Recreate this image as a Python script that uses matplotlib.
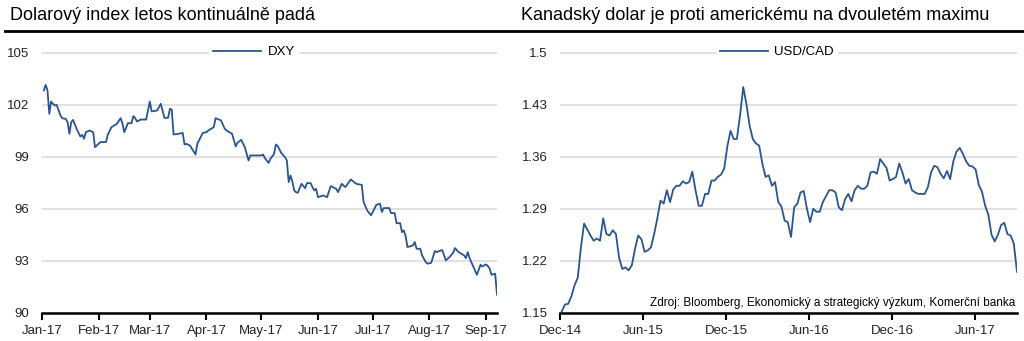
import pandas as pd
import matplotlib
matplotlib.use('Agg')
import matplotlib.pyplot as plt
import matplotlib.dates as mdates
from matplotlib.lines import Line2D
from matplotlib.ticker import FuncFormatter

plt.rcParams['font.family'] = ['Liberation Sans', 'DejaVu Sans']

# DXY, day of 2017 and closing value
dxy_day = [1, 2, 3, 4, 5, 6, 7, 8, 10, 11,
           13, 14, 15, 16, 17, 19, 21, 22, 23, 24,
           26, 28, 29, 31, 32, 35, 36, 38, 41, 43,
           44, 45, 47, 49, 50, 51, 52, 54, 57, 59,
           60, 63, 65, 67, 69, 70, 71, 72, 75, 77,
           78, 79, 81, 84, 85, 88, 90, 91, 94, 95,
           98, 100, 101, 104, 106, 107, 109, 111, 113, 114,
           120, 121, 122, 124, 125, 127, 128, 129, 131, 133,
           134, 135, 136, 137, 138, 139, 140, 142, 144, 145,
           147, 148, 149, 150, 151, 154, 156, 158, 161, 162,
           164, 166, 169, 172, 175, 176, 178, 180, 181, 183,
           185, 186, 187, 190, 191, 193, 194, 196, 197, 198,
           199, 200, 203, 204, 205, 207, 208, 210, 211, 213,
           215, 216, 219, 221, 223, 225, 226, 228, 231, 232,
           233, 234, 237, 238, 240, 241, 243, 244, 245, 246,
           248, 249]
dxy = [102.83, 103.15, 102.83, 101.48, 102.19, 102.06, 101.96, 102.0, 101.42, 101.23,
       101.19, 101.0, 100.33, 101.0, 101.13, 100.6, 100.17, 100.27, 100.04, 100.42,
       100.52, 100.42, 99.56, 99.75, 99.85, 99.85, 100.27, 100.71, 100.9, 101.23,
       100.94, 100.42, 100.94, 100.94, 101.35, 101.23, 101.04, 101.15, 101.15, 102.19,
       101.62, 101.67, 102.06, 101.25, 101.25, 101.77, 101.73, 100.29, 100.33, 100.38,
       99.71, 99.75, 99.65, 99.13, 99.75, 100.38, 100.42, 100.52, 100.71, 101.23,
       101.1, 100.62, 100.52, 100.33, 99.6, 99.81, 99.98, 99.56, 98.79, 99.08,
       99.08, 99.13, 98.92, 98.65, 98.88, 99.17, 99.71, 99.62, 99.21, 98.98,
       98.79, 97.54, 97.92, 97.58, 97.06, 96.96, 96.92, 97.44, 97.19, 97.48,
       97.48, 97.25, 97.06, 97.15, 96.67, 96.77, 96.67, 97.31, 97.15, 96.96,
       97.44, 97.25, 97.69, 97.44, 97.38, 96.38, 95.9, 95.62, 95.81, 96.23,
       96.29, 95.81, 96.04, 96.04, 95.75, 95.75, 95.17, 95.17, 94.65, 94.75,
       94.42, 93.79, 93.88, 94.08, 93.69, 93.69, 93.31, 92.92, 92.83, 92.88,
       93.56, 93.5, 93.62, 93.02, 93.21, 93.46, 93.73, 93.5, 93.31, 93.15,
       93.5, 93.15, 92.44, 92.19, 92.77, 92.67, 92.79, 92.69, 92.54, 92.19,
       92.25, 91.04]

# USD/CAD, weekly (Fridays) from 5 Dec 2014
usdcad = [1.152, 1.161, 1.162, 1.172, 1.187, 1.197, 1.238, 1.270, 1.262, 1.254,
          1.247, 1.250, 1.247, 1.277, 1.256, 1.254, 1.261, 1.256, 1.224, 1.209,
          1.211, 1.207, 1.214, 1.236, 1.254, 1.249, 1.232, 1.234, 1.238, 1.256,
          1.277, 1.301, 1.297, 1.315, 1.299, 1.316, 1.321, 1.321, 1.327, 1.324,
          1.326, 1.340, 1.315, 1.294, 1.294, 1.310, 1.310, 1.328, 1.328, 1.333,
          1.336, 1.344, 1.374, 1.395, 1.384, 1.384, 1.416, 1.454, 1.431, 1.402,
          1.384, 1.378, 1.375, 1.351, 1.333, 1.335, 1.321, 1.326, 1.299, 1.293,
          1.274, 1.272, 1.252, 1.292, 1.297, 1.312, 1.314, 1.290, 1.272, 1.290,
          1.286, 1.286, 1.299, 1.307, 1.315, 1.315, 1.312, 1.292, 1.288, 1.303,
          1.310, 1.300, 1.315, 1.321, 1.317, 1.317, 1.321, 1.339, 1.340, 1.337,
          1.357, 1.351, 1.345, 1.328, 1.330, 1.333, 1.351, 1.339, 1.324, 1.330,
          1.315, 1.312, 1.310, 1.310, 1.310, 1.319, 1.339, 1.348, 1.346, 1.337,
          1.331, 1.341, 1.330, 1.354, 1.367, 1.372, 1.364, 1.354, 1.348, 1.347,
          1.343, 1.322, 1.313, 1.294, 1.282, 1.255, 1.246, 1.255, 1.268, 1.271,
          1.256, 1.254, 1.243, 1.205]

dxy_dates = pd.Timestamp('2017-01-01') + pd.to_timedelta(dxy_day, unit='D')
cad_dates = pd.date_range('2014-12-05', periods=len(usdcad), freq='W-FRI')

LINE = '#2b5590'
GRID = '#d9d9d9'
TXT = '#222222'

fig = plt.figure(figsize=(10.24, 3.41), dpi=100)


def style(ax, ticks, fmt):
    ax.set_yticks(ticks)
    ax.yaxis.set_major_formatter(FuncFormatter(fmt))
    ax.grid(axis='y', color=GRID, lw=1.1, zorder=0)
    ax.set_axisbelow(True)
    for s in ['left', 'right', 'top']:
        ax.spines[s].set_visible(False)
    ax.spines['bottom'].set_linewidth(1.8)
    ax.spines['bottom'].set_color('black')
    ax.tick_params(axis='y', length=0, pad=9, labelsize=9.5, labelcolor=TXT)
    ax.tick_params(axis='x', length=5, width=1.5, labelsize=9.5, labelcolor=TXT, pad=4)
    ax.xaxis.set_major_formatter(mdates.DateFormatter('%b-%y'))


def legend(ax, x):
    ax.legend(loc='center', bbox_to_anchor=(x, 1.0), frameon=True,
              facecolor='white', edgecolor='none', framealpha=1, fancybox=False,
              fontsize=9.5, handlelength=3.6, borderpad=0.3, borderaxespad=0,
              handletextpad=0.5)


# left panel: dollar index
ax1 = fig.add_axes([42 / 1024, 0.083, 455 / 1024, 0.7645])
ax1.plot(dxy_dates, dxy, color=LINE, lw=1.3, label='DXY', zorder=3)
ax1.set_ylim(90, 105.05)
ax1.set_xlim(pd.Timestamp('2017-01-01'), dxy_dates[-1])
ax1.xaxis.set_major_locator(mdates.MonthLocator())
style(ax1, [90, 93, 96, 99, 102, 105], lambda v, p: '%d' % v)
legend(ax1, 0.466)

# right panel: USD/CAD
ax2 = fig.add_axes([560 / 1024, 0.083, 457 / 1024, 0.7645])
ax2.plot(cad_dates, usdcad, color=LINE, lw=1.3, label='USD/CAD', zorder=3)
ax2.set_ylim(1.15, 1.5012)
ax2.set_xlim(pd.Timestamp('2014-12-01'), cad_dates[-1])
ax2.xaxis.set_major_locator(mdates.MonthLocator(bymonth=[6, 12]))
style(ax2, [1.15, 1.22, 1.29, 1.36, 1.43, 1.5], lambda v, p: '%g' % round(v, 2))
legend(ax2, 0.475)

# titles and the rule beneath them
fig.text(10 / 1024, 1 - 16 / 341, 'Dolarový index letos kontinuálně padá',
         fontsize=13, va='center', color='black')
fig.text(521 / 1024, 1 - 16 / 341, 'Kanadský dolar je proti americkému na dvouletém maximu',
         fontsize=13, va='center', color='black')
fig.add_artist(Line2D([5 / 1024, 1.0], [1 - 30.5 / 341, 1 - 30.5 / 341],
                      transform=fig.transFigure, color='black', lw=2))

fig.text(1015 / 1024, 1 - 303 / 341,
         'Zdroj: Bloomberg, Ekonomický a strategický výzkum, Komerční banka',
         fontsize=8.5, ha='right', va='center', color='black')

fig.savefig('out.png', dpi=100)
